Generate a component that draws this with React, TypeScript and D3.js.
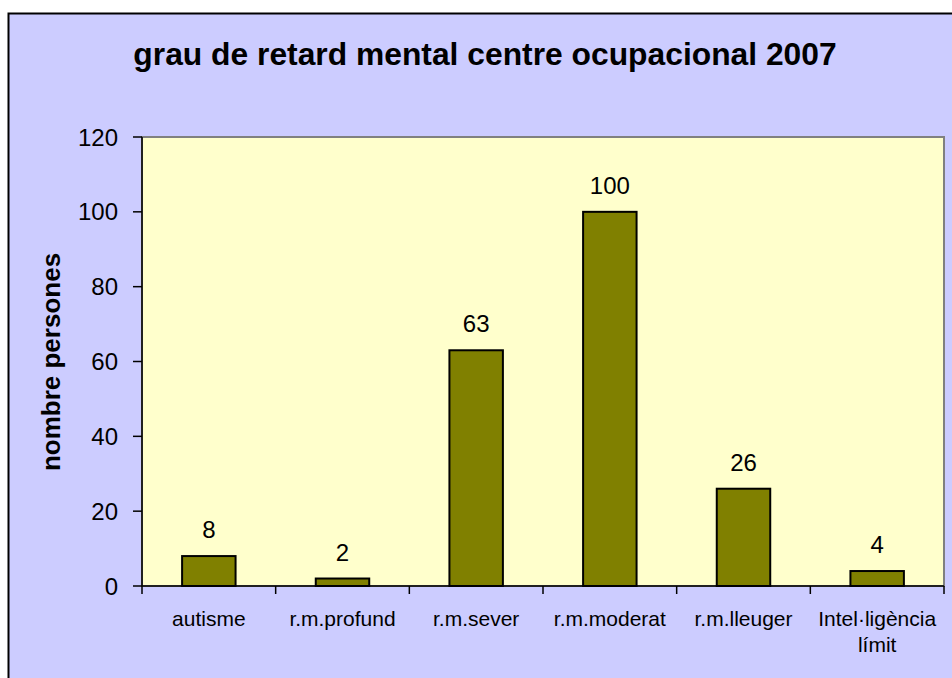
import React from "react";
import * as d3 from "d3";

const categories = ["autisme", "r.m.profund", "r.m.sever", "r.m.moderat", "r.m.lleuger", "Intel·ligència límit"];
const values = [8, 2, 63, 100, 26, 4];
const yTicks = [0, 20, 40, 60, 80, 100, 120];
const title = "grau de retard mental centre ocupacional 2007";
const yTitle = "nombre persones";

const W = 952;
const H = 678;
const plot = { left: 142, right: 944, top: 137, bottom: 586 };
const FONT = "'Liberation Sans', Arial, Helvetica, sans-serif";

export default function App() {
  const x = d3
    .scaleBand<string>()
    .domain(categories)
    .range([plot.left, plot.right])
    .paddingInner(0.6)
    .paddingOuter(0.3);
  const y = d3.scaleLinear().domain([0, 120]).range([plot.bottom, plot.top]);
  const step = (plot.right - plot.left) / categories.length;
  const bounds = d3.range(categories.length + 1).map((i) => plot.left + i * step);

  const splitLabel = (s: string) => {
    if (s === "Intel·ligència límit") return ["Intel·ligència", "límit"];
    return [s];
  };

  return (
    <svg
      width={W}
      height={H}
      style={{ position: "absolute", left: 0, top: 0, display: "block" }}
      fontFamily={FONT}
    >
      <rect x={0} y={0} width={W} height={H} fill="#ffffff" />
      <rect x={8.5} y={13.5} width={980} height={700} fill="#ccccff" stroke="#000" strokeWidth={2} />
      <text x={485} y={65} textAnchor="middle" fontSize={31.8} fontWeight="bold" fill="#000">
        {title}
      </text>
      <rect
        x={plot.left}
        y={plot.top}
        width={plot.right - plot.left}
        height={plot.bottom - plot.top}
        fill="#ffffcc"
        stroke="#808080"
        strokeWidth={2}
      />
      {values.map((v, i) => (
        <rect
          key={categories[i]}
          x={x(categories[i])!}
          y={y(v)}
          width={x.bandwidth()}
          height={y(0) - y(v)}
          fill="#808000"
          stroke="#000"
          strokeWidth={2}
        />
      ))}
      {values.map((v, i) => (
        <text
          key={"l" + i}
          x={x(categories[i])! + x.bandwidth() / 2}
          y={y(v) - 18}
          textAnchor="middle"
          fontSize={24}
          fill="#000"
        >
          {v}
        </text>
      ))}
      {/* y axis */}
      <line x1={plot.left} x2={plot.left} y1={plot.top} y2={plot.bottom} stroke="#000" strokeWidth={1.5} />
      {yTicks.map((t) => (
        <g key={t}>
          <line x1={plot.left - 9} x2={plot.left} y1={y(t)} y2={y(t)} stroke="#000" strokeWidth={1.5} />
          <text x={118} y={y(t)} dy="0.36em" textAnchor="end" fontSize={24} fill="#000">
            {t}
          </text>
        </g>
      ))}
      {/* x axis */}
      <line x1={plot.left} x2={plot.right} y1={plot.bottom} y2={plot.bottom} stroke="#000" strokeWidth={1.5} />
      {bounds.map((b, i) => (
        <line key={i} x1={b} x2={b} y1={plot.bottom} y2={plot.bottom + 8} stroke="#000" strokeWidth={1.5} />
      ))}
      {categories.map((c) => (
        <text
          key={c}
          x={x(c)! + x.bandwidth() / 2}
          y={626}
          textAnchor="middle"
          fontSize={21}
          fill="#000"
        >
          {splitLabel(c).map((line, j) => (
            <tspan key={j} x={x(c)! + x.bandwidth() / 2} dy={j === 0 ? 0 : 26}>
              {line}
            </tspan>
          ))}
        </text>
      ))}
      <text
        transform={`translate(60, 362) rotate(-90)`}
        textAnchor="middle"
        fontSize={26}
        fontWeight="bold"
        fill="#000"
      >
        {yTitle}
      </text>
    </svg>
  );
}
